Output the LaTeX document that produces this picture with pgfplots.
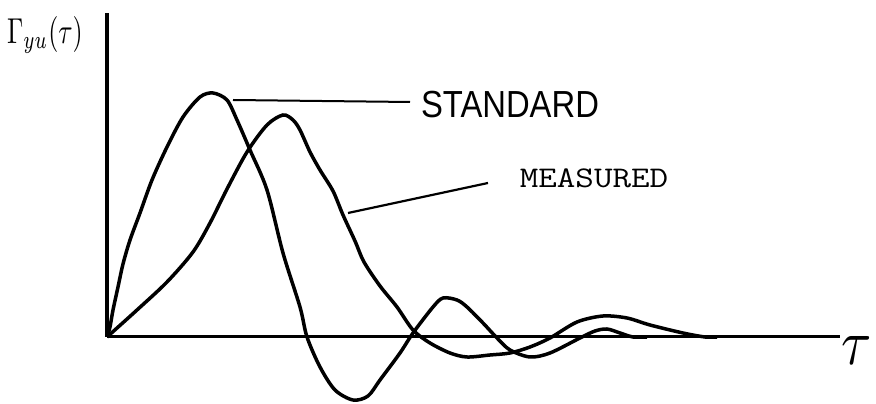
\documentclass[border=0pt]{standalone}
\usepackage{pgfplots}
\pgfplotsset{compat=1.18}
\usepackage{fontspec}
\setmainfont{Liberation Sans}
\begin{document}
\begin{tikzpicture}
\path[use as bounding box] (0,0) rectangle (876pt,404pt);
\begin{axis}[at={(0,0)}, anchor=south west, scale only axis,
  width=876pt, height=404pt,
  xmin=-107, xmax=769, ymin=-67, ymax=337,
  hide axis, clip=false]
% axes
\addplot[black, line width=3pt] coordinates {(0,0) (733,0)};
\addplot[black, line width=3.5pt] coordinates {(0,0) (0,324)};
% standard
\addplot[black, line width=3.5pt, smooth, tension=0.5] coordinates {
(0,0) (3,10) (6,27) (11,50) (16,73) (23,97) (33,124) (45,157) (60,190) (76,220) (93,240) (106,244)
(120,237) (130,217) (143,187) (160,147) (176,84) (193,30) (200,0) (213,-30)
(228,-53) (246,-63) (261,-59) (273,-43) (293,-16) (306,4) (326,30) (336,39)
(350,37) (360,30) (376,14) (390,-1) (403,-13) (423,-20) (443,-16) (473,-1)
(488,6) (500,8) (513,4) (526,0) (540,0)};
% measured
\addplot[black, line width=3.5pt, smooth, tension=0.5] coordinates {
(0,0) (30,27) (60,55) (86,85) (103,114) (120,148) (140,185) (160,212)
(176,222) (186,217) (193,207) (203,185) (213,167) (226,146) (236,122) (248,96)
(257,75) (273,51) (290,30) (306,7) (323,-6) (343,-16) (360,-20) (383,-18)
(403,-16) (423,-10) (443,-1) (470,15) (496,21) (520,19) (543,12) (576,4) (598,0) (610,0)};
% leader lines
\addplot[black, line width=2pt] coordinates {(126,237) (303,235)};
\addplot[black, line width=2.2pt] coordinates {(241,124) (381,154)};
% labels
\node[anchor=center, inner sep=0pt] at (axis cs:403,232)
  {\fontsize{37.7}{40}\selectfont\scalebox{0.87}[1]{STANDARD}};
\node[anchor=center, inner sep=0pt] at (axis cs:487,159)
  {\ttfamily\fontsize{30}{32}\selectfont\scalebox{1.2}[1]{MEASURED}};
\node[anchor=center, inner sep=0pt] at (axis cs:-62,302)
  {\scalebox{2.6}[3.6]{$\Gamma_{yu}(\tau)$}};
\node[anchor=center, inner sep=0pt] at (axis cs:750,-14)
  {\scalebox{5.5}[6.5]{$\tau$}};
\end{axis}
\end{tikzpicture}
\end{document}
